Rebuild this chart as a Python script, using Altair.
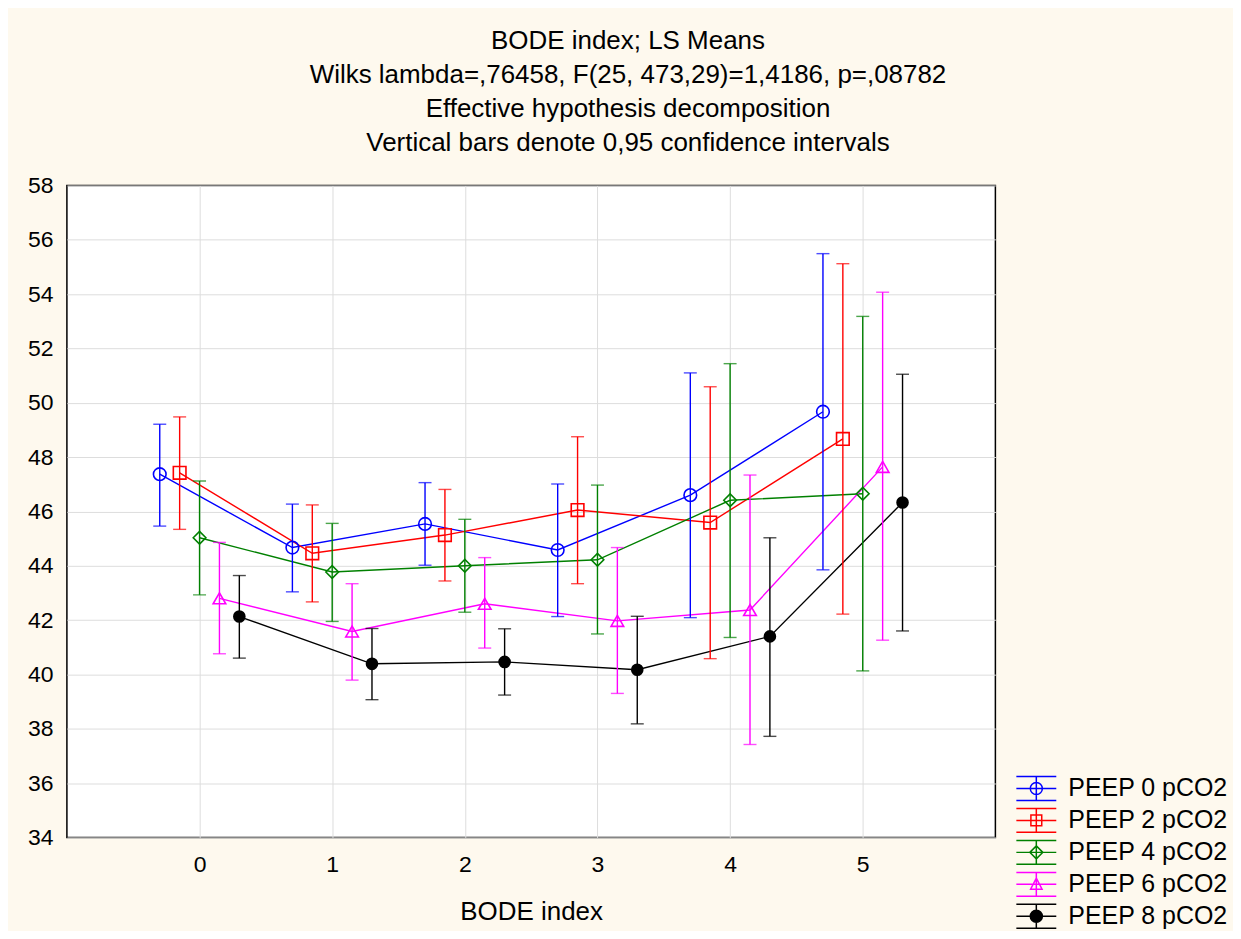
import altair as alt
import pandas as pd

series = ["PEEP 0 pCO2", "PEEP 2 pCO2", "PEEP 4 pCO2", "PEEP 6 pCO2", "PEEP 8 pCO2"]
colors = ["#0000FF", "#FF0000", "#008000", "#FF00FF", "#000000"]
bode = [0, 1, 2, 3, 4, 5]

mean_p0 = [47.37, 44.67, 45.54, 44.58, 46.60, 49.67]
low_p0 = [45.46, 43.04, 44.02, 42.13, 42.09, 43.85]
up_p0 = [49.21, 46.27, 47.06, 47.01, 51.10, 55.49]

mean_p2 = [47.42, 44.46, 45.13, 46.05, 45.59, 48.67]
low_p2 = [45.34, 42.67, 43.44, 43.34, 40.58, 42.22]
up_p2 = [49.48, 46.24, 46.81, 48.75, 50.59, 55.12]

mean_p4 = [45.03, 43.77, 44.00, 44.22, 46.41, 46.65]
low_p4 = [42.93, 41.95, 42.29, 41.49, 41.36, 40.13]
up_p4 = [47.12, 45.56, 45.71, 46.97, 51.44, 53.18]

mean_p6 = [42.80, 41.58, 42.60, 41.97, 42.37, 47.64]
low_p6 = [40.76, 39.79, 40.97, 39.30, 37.42, 41.26]
up_p6 = [44.86, 43.34, 44.30, 44.67, 47.34, 54.07]

mean_p8 = [42.13, 40.39, 40.46, 40.17, 41.40, 46.33]
low_p8 = [40.60, 39.07, 39.24, 38.18, 37.72, 41.60]
up_p8 = [43.64, 41.69, 41.68, 42.14, 45.03, 51.05]

y_ticks = [34, 36, 38, 40, 42, 44, 46, 48, 50, 52, 54, 56, 58]

means = [mean_p0, mean_p2, mean_p4, mean_p6, mean_p8]
lows = [low_p0, low_p2, low_p4, low_p6, low_p8]
ups = [up_p0, up_p2, up_p4, up_p6, up_p8]

rows = []
for i, s in enumerate(series):
    for j, b in enumerate(bode):
        rows.append({"series": s, "idx": i, "bode": b,
                     "mean": means[i][j], "low": lows[i][j], "up": ups[i][j]})
df = pd.DataFrame(rows)

FONT = "Liberation Sans"

base = alt.Chart(df).transform_calculate(
    xpos="datum.bode + (datum.idx - 2) * 0.15"
)

xenc = alt.X("xpos:Q", scale=alt.Scale(domain=[-1, 6], nice=False, zero=False),
             axis=alt.Axis(values=bode, title="BODE index", format="d"))
yenc = alt.Y("mean:Q", scale=alt.Scale(domain=[34, 58], nice=False, zero=False),
             axis=alt.Axis(values=y_ticks, title=None))
color = alt.Color("series:N", scale=alt.Scale(domain=series, range=colors), legend=None)

lines = base.mark_line(strokeWidth=1.4).encode(x=xenc, y=yenc, color=color, order="bode:Q")
rules = base.mark_rule(strokeWidth=1.4).encode(x="xpos:Q", y="low:Q", y2="up:Q", color=color)
cap_lo = base.mark_tick(orient="horizontal", size=13, thickness=1.4).encode(
    x="xpos:Q", y="low:Q", color=color)
cap_hi = base.mark_tick(orient="horizontal", size=13, thickness=1.4).encode(
    x="xpos:Q", y="up:Q", color=color)

marker_shapes = ["circle", "square", "diamond", "triangle-up", "circle"]
marker_filled = [False, False, False, False, True]
point_layers = []
for s, shp, fl in zip(series, marker_shapes, marker_filled):
    point_layers.append(
        base.transform_filter(alt.datum.series == s).mark_point(
            shape=shp, filled=fl, size=160, strokeWidth=1.6, opacity=1
        ).encode(x="xpos:Q", y="mean:Q", color=color)
    )

bars = "M-1.29,-0.77H1.29M-1.29,0.77H1.29M-1.29,0H1.29M0,-0.77V0.77"
legend_shapes = [
    bars + "M0.39,0A0.39,0.39 0 1,1 -0.39,0A0.39,0.39 0 1,1 0.39,0Z",
    bars + "M-0.35,-0.35H0.35V0.35H-0.35Z",
    bars + "M0,-0.42L0.42,0L0,0.42L-0.42,0Z",
    bars + "M0,-0.4L0.37,0.32L-0.37,0.32Z",
    bars + "M0.39,0A0.39,0.39 0 1,1 -0.39,0A0.39,0.39 0 1,1 0.39,0Z",
]

leg = alt.Legend(title=None, orient="none", legendX=954.5, legendY=587.5, padding=0,
                 symbolSize=961, symbolOpacity=1, symbolStrokeWidth=1.5,
                 labelFontSize=25, labelFont=FONT, labelColor="#000000",
                 labelLimit=400, rowPadding=0, labelOffset=15.5)

legend_layer = base.mark_point(opacity=0, size=961).encode(
    x="xpos:Q", y="mean:Q",
    stroke=alt.Stroke("series:N", scale=alt.Scale(domain=series, range=colors), legend=leg),
    fill=alt.Fill("series:N", scale=alt.Scale(
        domain=series, range=["transparent", "transparent", "transparent", "transparent", "#000000"]),
        legend=leg),
    shape=alt.Shape("series:N", scale=alt.Scale(domain=series, range=legend_shapes), legend=leg),
)

chart = alt.layer(legend_layer, lines, rules, cap_lo, cap_hi, *point_layers).properties(
    width=930, height=653,
    autosize=alt.AutoSizeParams(type="none"),
    padding={"left": 59, "top": 177, "right": 238, "bottom": 93},
    background="#FEF9EE",
    title=alt.TitleParams(
        text=["BODE index; LS Means",
              "Wilks lambda=,76458, F(25, 473,29)=1,4186, p=,08782",
              "Effective hypothesis decomposition",
              "Vertical bars denote 0,95 confidence intervals"],
        font=FONT, fontSize=26, fontWeight="normal", color="#000000",
        anchor="middle", frame="group", dx=97, offset=19, lineHeight=34,
    ),
).configure_view(
    stroke="#000000", strokeWidth=1.5, fill="#FFFFFF"
).configure_axis(
    labelFont=FONT, labelFontSize=23, labelColor="#000000",
    titleFont=FONT, titleFontSize=26, titleFontWeight="normal", titleColor="#000000",
    grid=True, gridColor="#DDDDDD", gridWidth=1,
    domain=False, ticks=False,
).configure_axisX(
    labelPadding=16, titlePadding=22
).configure_axisY(
    labelPadding=14
)

chart.save("out.html", embed_options={"renderer": "svg", "actions": False})
